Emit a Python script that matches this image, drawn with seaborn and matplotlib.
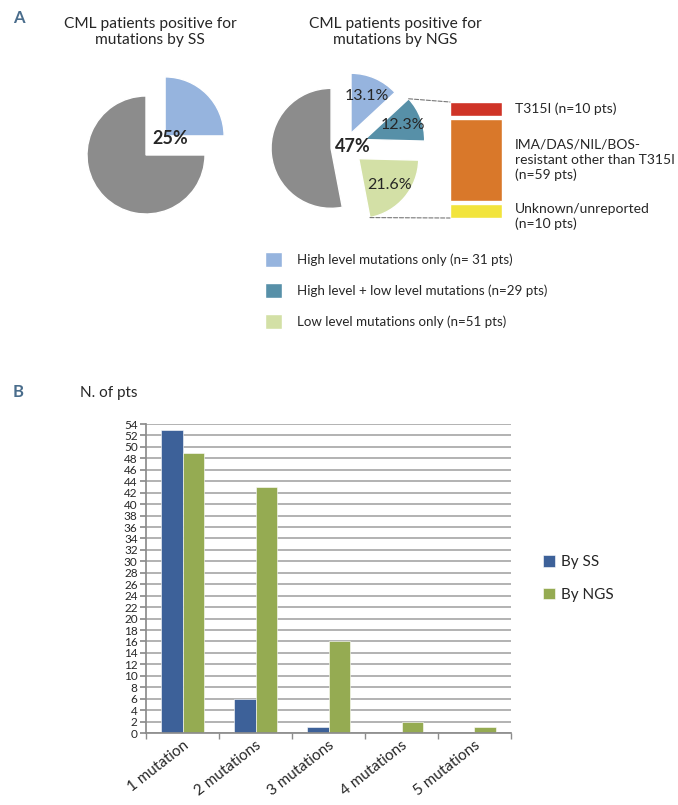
import numpy as np
import pandas as pd
import matplotlib.pyplot as plt
import seaborn as sns
from matplotlib.patches import Patch, ConnectionPatch

# Panel A data
ss_share = [25, 75]
ss_positive = 25
ngs_share = [13.1, 12.3, 21.6, 53.0]
ngs_positive = 47
ngs_legend = ['High level mutations only (n= 31 pts)',
              'High level + low level mutations (n=29 pts)',
              'Low level mutations only (n=51 pts)']
resist_labels = ['T315I (n=10 pts)',
                 'IMA/DAS/NIL/BOS-\nresistant other than T315I\n(n=59 pts)',
                 'Unknown/unreported\n(n=10 pts)']
resist_counts = [10, 59, 10]

# Panel B data
categories = ['1 mutation', '2 mutations', '3 mutations', '4 mutations', '5 mutations']
by_ss = [53, 6, 1, 0, 0]
by_ngs = [49, 43, 16, 2, 1]

# colours
gray = '#8c8c8c'
light_blue = '#96b4de'
teal = '#5790a8'
light_green = '#d3e0a6'
resist_colors = ['#cf3427', '#d9782a', '#f2e43c']
ss_color = '#3d6199'
ngs_color = '#95ab52'
letter_color = '#4a6d8c'

sns.set_theme(style='white')
plt.rcParams['font.family'] = ['Lato', 'DejaVu Sans']

W, H = 678, 805
fig = plt.figure(figsize=(W / 100, H / 100), dpi=100)


def rect(x, y, w, h):
    return [x / W, 1 - (y + h) / H, w / W, h / H]


# ---- Panel A: pies drawn on a pixel-scaled overlay axes
ax_a = fig.add_axes([0, 0, 1, 1])
ax_a.set_xlim(0, W)
ax_a.set_ylim(0, H)
ax_a.axis('off')

fig.text(13 / W, 1 - 18 / H, 'A', color=letter_color, fontsize=12, fontweight='bold', va='center')

fig.text(150 / W, 1 - 32 / H, 'CML patients positive for\nmutations by SS', ha='center', va='center',
         fontsize=11.2, linespacing=1.2)
fig.text(395 / W, 1 - 32 / H, 'CML patients positive for\nmutations by NGS', ha='center', va='center',
         fontsize=11.2, linespacing=1.2)

# explode offsets are in pixels (the overlay axes is in pixel units)
c1 = (146, H - 155)
ax_a.pie(ss_share, colors=[light_blue, gray], startangle=90, counterclock=False,
         explode=[27, 0], radius=59, center=c1, frame=True)
ax_a.text(c1[0] + 24, c1[1] + 16, f'{ss_positive}%', fontsize=13, fontweight='bold',
          ha='center', va='center')

c2 = (345, H - 147)
wedges, _, autotexts = ax_a.pie(
    ngs_share, colors=[light_blue, teal, light_green, gray], startangle=90, counterclock=False,
    explode=[15, 21, 18, 14], radius=60, center=c2, frame=True,
    autopct=lambda p: f'{p:.1f}%' if p < 50 else '', pctdistance=0.68,
    textprops={'fontsize': 11.5})
ax_a.text(353, H - 147, f'{ngs_positive}%', fontsize=13, fontweight='bold',
          ha='center', va='center')
ax_a.set_xlim(0, W)
ax_a.set_ylim(0, H)
ax_a.set_aspect('auto')

# stacked bar of resistance categories
ax_r = fig.add_axes(rect(450, 102, 52, 116))
gap = 2
tops = []
bottom = sum(resist_counts) + gap * (len(resist_counts) - 1)
for n, col in zip(resist_counts, resist_colors):
    bottom -= n
    ax_r.bar(0, n, bottom=bottom, width=1, color=col)
    tops.append((bottom, n))
    bottom -= gap
ax_r.set_xlim(-0.5, 0.5)
ax_r.set_ylim(0, sum(resist_counts) + gap * (len(resist_counts) - 1))
ax_r.axis('off')
for i, ((b, n), lab) in enumerate(zip(tops, resist_labels)):
    if i == len(tops) - 1:
        ax_r.text(0.75, b + n + 1, lab, fontsize=10, va='top', linespacing=1.3)
    else:
        ax_r.text(0.75, b + n / 2, lab, fontsize=10, va='center', linespacing=1.3)

# dashed connectors from the exploded wedges to the bar
wt = wedges[1]
p_top = (wt.center[0] + wt.r * np.cos(np.radians(wt.theta2)),
         wt.center[1] + wt.r * np.sin(np.radians(wt.theta2)))
wg = wedges[2]
p_bot = (wg.center[0] + wg.r * np.cos(np.radians(wg.theta1)),
         wg.center[1] + wg.r * np.sin(np.radians(wg.theta1)))
for p, yfrac in [(p_top, 1), (p_bot, 0)]:
    con = ConnectionPatch(xyA=p, coordsA=ax_a.transData, xyB=(0, yfrac), coordsB=ax_r.transAxes,
                          linestyle='--', color='#777777', linewidth=0.8)
    fig.add_artist(con)

fig.legend(handles=[Patch(facecolor=c) for c in [light_blue, teal, light_green]], labels=ngs_legend,
           loc='upper left', bbox_to_anchor=(253 / W, 1 - 240 / H), frameon=False, fontsize=9.6,
           handlelength=1.3, handleheight=1.3, labelspacing=1.25, handletextpad=1.1)

# ---- Panel B: grouped bars
fig.text(13 / W, 1 - 392 / H, 'B', color=letter_color, fontsize=12, fontweight='bold', va='center')
fig.text(80 / W, 1 - 393 / H, 'N. of pts', fontsize=11, va='center')

df = pd.DataFrame({'category': categories * 2,
                   'method': ['By SS'] * len(categories) + ['By NGS'] * len(categories),
                   'count': by_ss + by_ngs})

ax_b = fig.add_axes(rect(146, 424, 365, 309))
sns.barplot(data=df, x='category', y='count', hue='method', palette=[ss_color, ngs_color],
            width=0.58, saturation=1, edgecolor='#ffffff', linewidth=0.4, ax=ax_b)
ax_b.set_ylim(0, 54)
ax_b.set_xlim(-0.5, len(categories) - 0.5)
ax_b.set_yticks(range(0, 55, 2))
ax_b.set_axisbelow(True)
ax_b.yaxis.grid(True, color='#a6a6a6', linewidth=1.2)
ax_b.set_xlabel('')
ax_b.set_ylabel('')
for s in ['top', 'right']:
    ax_b.spines[s].set_visible(False)
for s in ['left', 'bottom']:
    ax_b.spines[s].set_color('#8c8c8c')
ax_b.tick_params(axis='y', left=True, length=4, color='#8c8c8c', labelsize=8.5, pad=2)
ax_b.tick_params(axis='x', which='major', length=0, labelsize=11)
ax_b.set_xticks(np.arange(-0.5, len(categories)), minor=True)
ax_b.tick_params(axis='x', which='minor', bottom=True, length=4, color='#8c8c8c')
plt.setp(ax_b.get_xticklabels(), rotation=38, ha='right', rotation_mode='anchor')
sns.move_legend(ax_b, 'center left', bbox_to_anchor=(1.05, 0.5), title=None, frameon=False,
                fontsize=11, handlelength=0.8, handleheight=0.8, labelspacing=1.2, handletextpad=0.4)

fig.savefig('out.png', dpi=100)
